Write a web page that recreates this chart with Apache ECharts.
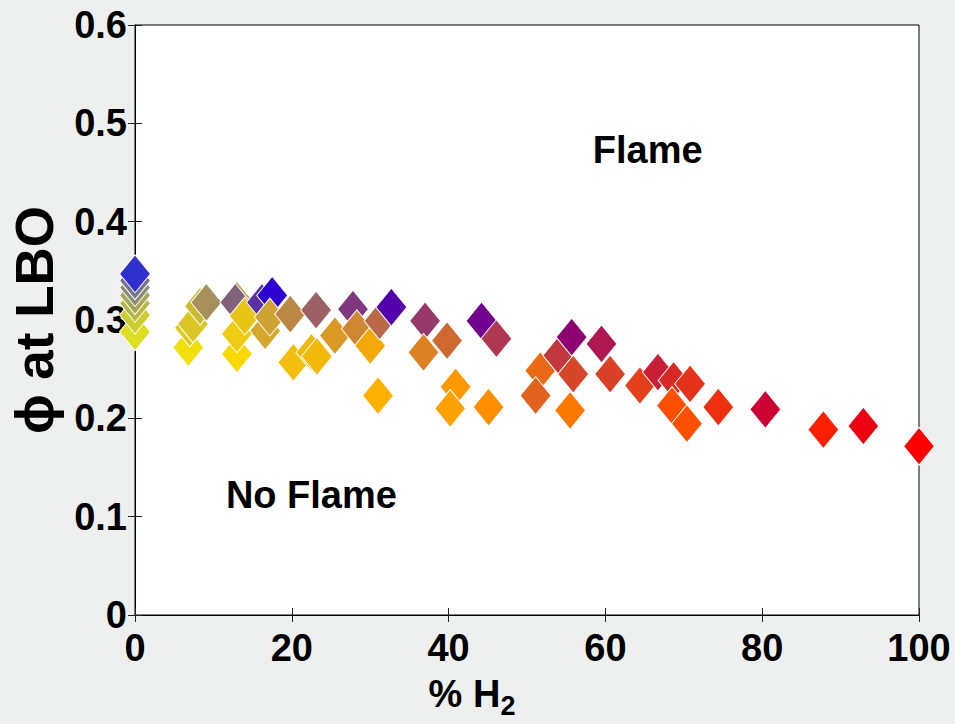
<!DOCTYPE html>
<html><head><meta charset="utf-8">
<script src="https://cdn.jsdelivr.net/npm/echarts@6/dist/echarts.min.js"></script>
<style>html,body{margin:0;padding:0;background:#eef0ef}#chart{width:955px;height:724px}</style>
</head><body><div id="chart"></div>
<script>
// % H2 in fuel (x)
const h2 = [0, 0, 0, 0, 0, 0, 0,
  6.8, 7.0, 7.4, 8.3, 9.1, 13.0, 13.0, 12.8, 13.0, 14.0, 16.2, 17.5, 16.6, 17.2, 19.8, 20.2,
  23.1, 22.5, 23.2, 25.5, 27.8, 28.3, 30.0, 31.2, 32.7, 31.0, 37.0, 36.8, 39.8, 44.2, 46.1,
  40.9, 40.2, 45.1, 51.7, 51.1, 54.0, 55.7, 55.9, 55.5, 59.5, 60.6, 64.4, 66.7, 68.7, 70.8,
  68.5, 70.4, 74.4, 80.4, 87.8, 92.9, 100];
// equivalence ratio at lean blow-out (y)
const phi = [0.288, 0.305, 0.317, 0.325, 0.333, 0.340, 0.347,
  0.272, 0.292, 0.296, 0.314, 0.318, 0.2655, 0.320, 0.318, 0.286, 0.304, 0.318, 0.325, 0.289, 0.303, 0.306, 0.257,
  0.310, 0.267, 0.263, 0.284, 0.311, 0.291, 0.274, 0.299, 0.313, 0.223, 0.299, 0.267, 0.279, 0.299, 0.281,
  0.232, 0.210, 0.2115, 0.2486, 0.223, 0.264, 0.2825, 0.245, 0.208, 0.2757, 0.245, 0.2334, 0.247, 0.2385, 0.235,
  0.213, 0.1946, 0.2115, 0.209, 0.1885, 0.1922, 0.1716];
// % CO in fuel (remainder CH4) -> marker colour
const co = [87, 80, 72, 65, 55, 45, 19,
  88, 80, 78, 72, 56, 85, 63, 38, 80, 77, 19, 0, 66, 63, 53, 75,
  38, 72, 72, 60, 22, 53, 66, 41, 0, 69, 22, 50, 41, 0, 22,
  60, 63, 56, 41, 38, 22, 0, 28, 47, 9, 25, 25, 12, 16, 19,
  31, 31, 19, 0, 12, 0, 0];
const xRange = [0, 100, 20];
const yRange = [0, 0.6, 0.1];
const annotations = [{name: 'Flame', coord: [65.4, 0.473]}, {name: 'No Flame', coord: [22.5, 0.122]}];

function mixColor(h, c) {
  const H = h / 100, C = c / 100, M = Math.max(0, 1 - H - C);
  const r = Math.min(255, Math.round(255 * (H + C)));
  const g = Math.round(255 * C);
  const b = Math.round(255 * M);
  return 'rgb(' + r + ',' + g + ',' + b + ')';
}

const FONT = '"Liberation Sans", Arial, Helvetica, sans-serif';
const chart = echarts.init(document.getElementById('chart'), null, {renderer: 'svg'});
const tickStyle = {show: true, inside: true, length: 7, lineStyle: {color: '#222', width: 1}};
const lineStyle = {show: true, lineStyle: {color: '#000', width: 1}};
const labelStyle = {color: '#000', fontSize: 38, fontWeight: 'bold', fontFamily: FONT};

chart.setOption({
  backgroundColor: '#eef0ef',
  animation: false,
  grid: {left: 135, right: 36, top: 25, bottom: 107, show: true, backgroundColor: '#fff', borderColor: '#000', borderWidth: 1},
  xAxis: [{
    type: 'value', min: xRange[0], max: xRange[1], interval: xRange[2],
    axisLine: lineStyle, axisTick: tickStyle, splitLine: {show: false},
    axisLabel: Object.assign({margin: 14}, labelStyle),
    name: '{h|% H}{s|2}', nameLocation: 'middle', nameGap: 53,
    nameTextStyle: {padding: [0, 110, 0, 0], rich: {
      h: {fontSize: 38, fontWeight: 'bold', fontFamily: FONT, color: '#000'},
      s: {fontSize: 27, fontWeight: 'bold', fontFamily: FONT, color: '#000', padding: [24, 0, 0, 0]}
    }}
  }, {
    type: 'value', position: 'top', min: xRange[0], max: xRange[1], interval: xRange[2],
    axisLine: lineStyle, axisTick: tickStyle, axisLabel: {show: false}, splitLine: {show: false}
  }],
  yAxis: [{
    type: 'value', min: yRange[0], max: yRange[1], interval: yRange[2],
    axisLine: lineStyle, axisTick: tickStyle, splitLine: {show: false},
    axisLabel: Object.assign({margin: 8}, labelStyle),
    name: 'ϕ at LBO', nameLocation: 'middle', nameGap: 74,
    nameTextStyle: {fontSize: 53, fontWeight: 'bold', fontFamily: FONT, color: '#000'}
  }, {
    type: 'value', position: 'right', min: yRange[0], max: yRange[1], interval: yRange[2],
    axisLine: lineStyle, axisTick: tickStyle, axisLabel: {show: false}, splitLine: {show: false}
  }],
  series: [{
    type: 'scatter',
    symbol: 'diamond',
    symbolSize: [31, 38],
    itemStyle: {borderColor: '#fff', borderWidth: 1, opacity: 1},
    data: h2.map((x, i) => ({value: [x, phi[i]], itemStyle: {color: mixColor(x, co[i])}})),
    markPoint: {
      symbol: 'rect', symbolSize: 1,
      itemStyle: {color: 'rgba(0,0,0,0)'},
      label: {show: true, position: 'inside', formatter: '{b}', color: '#000', fontSize: 38, fontWeight: 'bold', fontFamily: FONT},
      data: annotations.map(a => ({name: a.name, coord: a.coord}))
    }
  }]
});
</script></body></html>
